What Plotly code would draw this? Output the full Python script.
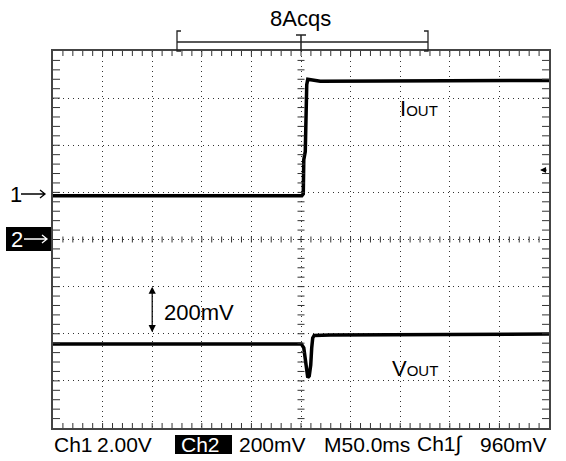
import plotly.graph_objects as go

# ---------------- data ----------------
time_iout_ms = [-250, 0.8, 2.3, 2.8, 4.3, 5.8, 6.8, 11.3, 19.4, 250]
iout_v = [0.0, 0.0, 0.08, 1.53, 1.87, 4.71, 4.94, 4.90, 4.86, 4.89]

time_vout_ms = [-250, 0.3, 2.8, 4.3, 5.8, 6.8, 8.3, 9.8, 10.8, 11.8, 13.3, 29.5, 250]
vout_mv = [-443, -443, -460, -511, -562, -586, -579, -533, -460, -418, -407, -405, -401]

ch1_v_per_div = 2.00
ch2_mv_per_div = 200
time_ms_per_div = 50.0
ch1_position_div = 0.93
ch2_position_div = 0.0
trigger_level_v = 0.96
ref_arrow_time_ms = -150
ref_arrow_mv = [-200, -400]

top_label = "8Acqs"
bottom_labels = ["Ch1", "2.00V", "Ch2", "200mV", "M50.0ms", "Ch1\u222b", "960mV"]

# ---------------- layout geometry ----------------
W, H = 566, 461
ML, MR, MT, MB = 53, 17, 51, 33
PW, PH = W - ML - MR, H - MT - MB
FONT = "Liberation Sans, Arial, sans-serif"


def PX(x):
    return (x - ML) / PW


def PY(y):
    return (H - MB - y) / PH


ch1_center = -ch1_position_div * ch1_v_per_div
y1_range = [(-4 - ch1_position_div) * ch1_v_per_div, (4 - ch1_position_div) * ch1_v_per_div]
y2_range = [(-4 - ch2_position_div) * ch2_mv_per_div, (4 - ch2_position_div) * ch2_mv_per_div]
x_range = [-5 * time_ms_per_div, 5 * time_ms_per_div]

fig = go.Figure()
fig.add_trace(go.Scatter(x=time_iout_ms, y=iout_v, mode="lines",
                         line=dict(color="black", width=3.5), yaxis="y", hoverinfo="skip"))
fig.add_trace(go.Scatter(x=time_vout_ms, y=vout_mv, mode="lines",
                         line=dict(color="black", width=3.5), yaxis="y2", hoverinfo="skip"))

shapes = []
tick_col = "#333"
# frame ticks along x (every 1/5 division)
xminor = time_ms_per_div / 5
for k in range(-24, 25):
    xv = k * xminor
    shapes.append(dict(type="line", xref="x", yref="paper", ysizemode="pixel", yanchor=0,
                       x0=xv, x1=xv, y0=0, y1=5, line=dict(color=tick_col, width=1)))
    shapes.append(dict(type="line", xref="x", yref="paper", ysizemode="pixel", yanchor=1,
                       x0=xv, x1=xv, y0=0, y1=-5, line=dict(color=tick_col, width=1)))
    shapes.append(dict(type="line", xref="x", yref="y", ysizemode="pixel", yanchor=ch1_center,
                       x0=xv, x1=xv, y0=-3, y1=3, line=dict(color=tick_col, width=1)))
yminor = ch1_v_per_div / 5
for k in range(-19, 20):
    yv = ch1_center + k * yminor
    shapes.append(dict(type="line", xref="paper", yref="y", xsizemode="pixel", xanchor=0,
                       x0=0, x1=7, y0=yv, y1=yv, line=dict(color=tick_col, width=1)))
    shapes.append(dict(type="line", xref="paper", yref="y", xsizemode="pixel", xanchor=1,
                       x0=0, x1=-7, y0=yv, y1=yv, line=dict(color=tick_col, width=1)))
    shapes.append(dict(type="line", xref="x", yref="y", xsizemode="pixel", xanchor=0,
                       x0=-3.5, x1=3.5, y0=yv, y1=yv, line=dict(color=tick_col, width=1)))

# record bracket and trigger "T" above the graticule
bl = dict(color="#222", width=1.3)
shapes += [
    dict(type="line", xref="paper", yref="paper", x0=PX(177), x1=PX(428), y0=PY(42), y1=PY(42), line=bl),
    dict(type="path", xref="paper", yref="paper",
         path=f"M {PX(181)} {PY(31)} L {PX(177)} {PY(31)} L {PX(177)} {PY(51)} L {PX(181)} {PY(51)}", line=bl),
    dict(type="path", xref="paper", yref="paper",
         path=f"M {PX(424)} {PY(31)} L {PX(428)} {PY(31)} L {PX(428)} {PY(51)} L {PX(424)} {PY(51)}", line=bl),
    dict(type="line", xref="x", yref="paper", xsizemode="pixel", xanchor=0, x0=-5, x1=5,
         y0=PY(35), y1=PY(35), line=dict(color="#222", width=1.5)),
    dict(type="line", xref="x", yref="paper", x0=0, x1=0, y0=PY(35), y1=PY(51), line=dict(color="#222", width=1.5)),
    # black boxes
    dict(type="rect", xref="paper", yref="paper", x0=PX(6), x1=PX(51), y0=PY(251), y1=PY(227),
         fillcolor="black", line=dict(width=0)),
    dict(type="rect", xref="paper", yref="paper", x0=PX(175), x1=PX(232), y0=PY(454), y1=PY(435),
         fillcolor="black", line=dict(width=0)),
]


def arrow_path(x0, x1, y):
    return (f"M {PX(x0)} {PY(y)} L {PX(x1)} {PY(y)} "
            f"M {PX(x1 - 5)} {PY(y - 4)} L {PX(x1)} {PY(y)} L {PX(x1 - 5)} {PY(y + 4)}")


shapes.append(dict(type="path", xref="paper", yref="paper", path=arrow_path(21, 45, 194),
                   line=dict(color="black", width=1.3)))
shapes.append(dict(type="path", xref="paper", yref="paper", path=arrow_path(24, 47, 239),
                   line=dict(color="white", width=1.3)))

f22 = dict(family=FONT, size=22, color="black")
ann = []
ann.append(dict(text=top_label, xref="paper", yref="paper", x=PX(300), y=PY(18.5),
                xanchor="center", yanchor="middle", showarrow=False, font=f22))
ann.append(dict(text="1", xref="paper", yref="paper", x=PX(8), y=PY(194),
                xanchor="left", yanchor="middle", showarrow=False, font=f22))
ann.append(dict(text="2", xref="paper", yref="paper", x=PX(9), y=PY(239),
                xanchor="left", yanchor="middle", showarrow=False,
                font=dict(family=FONT, size=22, color="white")))
ann.append(dict(text="I<span style='font-size:15px'>OUT</span>", xref="paper", yref="paper",
                x=PX(398), y=PY(108.5), xanchor="left", yanchor="middle", showarrow=False, font=f22))
ann.append(dict(text="V<span style='font-size:15px'>OUT</span>", xref="paper", yref="paper",
                x=PX(390), y=PY(368), xanchor="left", yanchor="middle", showarrow=False, font=f22))
ann.append(dict(text="200mV", xref="paper", yref="paper", x=PX(162), y=PY(313),
                xanchor="left", yanchor="middle", showarrow=False, font=f22))
# double-headed reference arrow
ann.append(dict(text="", xref="x", yref="y2", x=ref_arrow_time_ms, y=ref_arrow_mv[0],
                axref="x", ayref="y2", ax=ref_arrow_time_ms, ay=ref_arrow_mv[1],
                showarrow=True, arrowside="end+start", arrowhead=2, arrowsize=1.2,
                arrowwidth=1.2, arrowcolor="black"))
# trigger level marker on the right edge
ann.append(dict(text="", xref="x", yref="y", x=x_range[1] - 9, y=trigger_level_v, yshift=3,
                ax=8, ay=0, showarrow=True, arrowhead=2, arrowsize=1, arrowwidth=1.2,
                arrowcolor="black"))

# bottom status line: left x position in px
label_x = [52, 95, 179, 237, 322, 415, 478]
for txt, lx in zip(bottom_labels, label_x):
    col = "white" if txt == "Ch2" else "black"
    ann.append(dict(text=txt, xref="paper", yref="paper", x=PX(lx), y=PY(444),
                    xanchor="left", yanchor="middle", showarrow=False,
                    font=dict(family=FONT, size=21, color=col)))

grid = dict(showgrid=True, gridcolor="#333", gridwidth=1, griddash="1px,4px",
            zeroline=False, showticklabels=False, ticks="",
            showline=True, linecolor="#444", linewidth=1.5, mirror=True)

fig.update_layout(
    width=W, height=H, autosize=False,
    margin=dict(l=ML, r=MR, t=MT, b=MB, pad=0),
    paper_bgcolor="white", plot_bgcolor="white",
    showlegend=False,
    xaxis=dict(range=x_range, tick0=0, dtick=time_ms_per_div, **grid),
    yaxis=dict(range=y1_range, tick0=ch1_center, dtick=ch1_v_per_div, **grid),
    yaxis2=dict(range=y2_range, overlaying="y", visible=False),
    shapes=shapes, annotations=ann,
)

fig.write_html("out.html", config={"displayModeBar": False},
               post_script="document.body.style.margin='0px';")
